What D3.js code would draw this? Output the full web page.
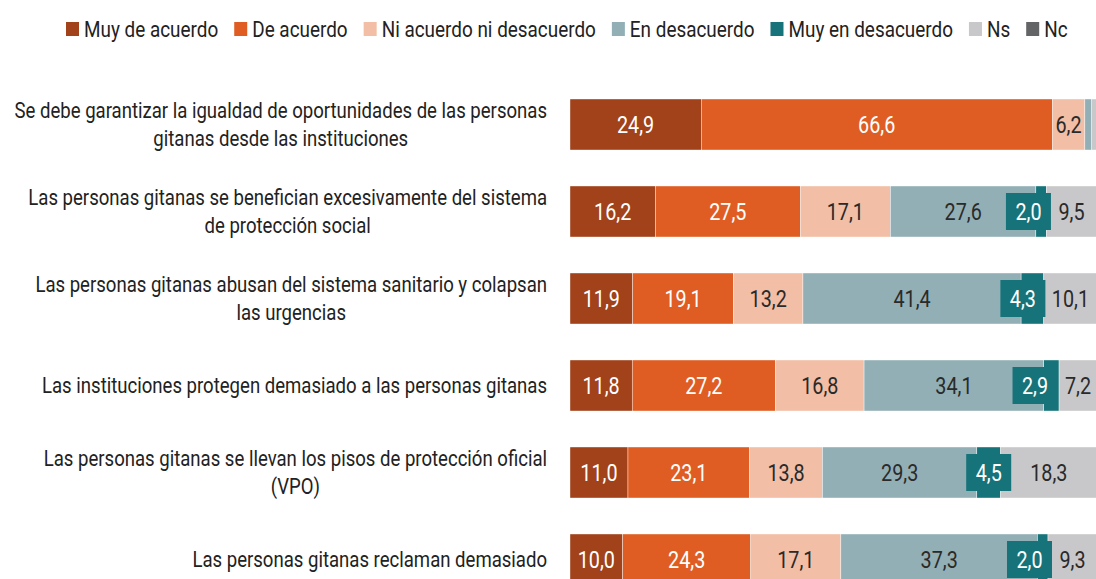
<!DOCTYPE html>
<html>
<head>
<meta charset="utf-8">
<script src="https://cdn.jsdelivr.net/npm/d3@7"></script>
<style>
	body { margin: 0; background: #fff; }
	svg text { font-family: Roboto, "Liberation Sans", sans-serif; }
</style>
</head>
<body>
<svg id="chart" width="1096" height="579"></svg>
<script>
// categories (rows, top to bottom)
const categories = [
	["Se debe garantizar la igualdad de oportunidades de las personas", "gitanas desde las instituciones"],
	["Las personas gitanas se benefician excesivamente del sistema", "de protección social"],
	["Las personas gitanas abusan del sistema sanitario y colapsan", "las urgencias"],
	["Las instituciones protegen demasiado a las personas gitanas"],
	["Las personas gitanas se llevan los pisos de protección oficial", "(VPO)"],
	["Las personas gitanas reclaman demasiado"]
];

const seriesNames = ["Muy de acuerdo", "De acuerdo", "Ni acuerdo ni desacuerdo", "En desacuerdo", "Muy en desacuerdo", "Ns", "Nc"];
const seriesColors = ["#a1421a", "#df5d23", "#f2bea5", "#93afb6", "#16737a", "#c8c8ca", "#636466"];

// values per series, one per row
const muyDeAcuerdo    = [24.9, 16.2, 11.9, 11.8, 11.0, 10.0];
const deAcuerdo       = [66.6, 27.5, 19.1, 27.2, 23.1, 24.3];
const niAcuerdo       = [6.2, 17.1, 13.2, 16.8, 13.8, 17.1];
const enDesacuerdo    = [1.2, 27.6, 41.4, 34.1, 29.3, 37.3];
const muyEnDesacuerdo = [0.0, 2.0, 4.3, 2.9, 4.5, 2.0];
const ns              = [1.1, 9.5, 10.1, 7.2, 18.3, 9.3];
const nc              = [0.0, 0.1, 0.0, 0.0, 0.0, 0.0];

const seriesValues = [muyDeAcuerdo, deAcuerdo, niAcuerdo, enDesacuerdo, muyEnDesacuerdo, ns, nc];

// the original uses a condensed face; squeeze Roboto horizontally
const squeezeK = 0.86;

const fmt = (v) => v.toFixed(1).replace(".", ",");

const putText = (g, str, x, y, size, fill, anchor) => {
	let t = g.append("text")
		.attr("transform", `translate(${x},${y}) scale(${squeezeK},1)`)
		.attr("dy", "0.35em")
		.style("font-size", size + "px")
		.style("fill", fill)
		.style("text-anchor", anchor)
		.text(str);
	return t;
}

const textW = (t) => t.node().getComputedTextLength() * squeezeK;

const drawChart = (svg_name) => {
	let chart = d3.select(svg_name);
	let rows = categories.map((c, i) => {
		let r = {key: i};
		seriesNames.forEach((s, j) => { r[s] = seriesValues[j][i]; });
		return r;
	});
	let x = d3.scaleLinear().domain([0, 100]).range([570, 1097]);
	let y = d3.scaleBand()
		.domain(rows.map((d) => d.key))
		.range([81, 603])
		.paddingInner(36 / 87)
		.paddingOuter(18 / 87);
	let color = d3.scaleOrdinal().domain(seriesNames).range(seriesColors);
	let stacked = d3.stack().keys(seriesNames)(rows);

	addLegend(chart, color);
	addRowLabels(chart, y);
	addBars(chart, stacked, x, y, color);
	addValueLabels(chart, stacked, x, y, color);
}

const addLegend = (chart, color) => {
	let g = chart.append("g");
	let cx = 66;
	seriesNames.forEach((s) => {
		g.append("rect")
			.attr("x", cx).attr("y", 22)
			.attr("width", 13).attr("height", 14)
			.attr("fill", color(s));
		let t = putText(g, s, cx + 18, 29.5, 22, "#222", "start");
		cx += 18 + textW(t) + 16;
	});
}

const addRowLabels = (chart, y) => {
	let right = 547;
	categories.forEach((lines, i) => {
		let cy = y(i) + y.bandwidth() / 2;
		let g = chart.append("g");
		let texts = lines.map((l, k) => putText(g, l, 0, 0, 21.6, "#222", "middle"));
		let w = d3.max(texts, (t) => textW(t));
		texts.forEach((t, k) => {
			let ly = cy + (k - (lines.length - 1) / 2) * 28;
			t.attr("transform", `translate(${right - w / 2},${ly}) scale(${squeezeK},1)`);
		});
	});
}

const addBars = (chart, stacked, x, y, color) => {
	chart.append("g").selectAll("g")
		.data(stacked)
		.join("g")
			.attr("fill", (d) => color(d.key))
		.selectAll("rect")
		.data((d) => d)
		.join("rect")
			.attr("x", (d) => x(d[0]))
			.attr("y", (d) => y(d.data.key))
			.attr("width", (d) => x(d[1]) - x(d[0]))
			.attr("height", y.bandwidth())
			.attr("stroke", "#fff")
			.attr("stroke-width", 0.4);
}

const addValueLabels = (chart, stacked, x, y, color) => {
	let g = chart.append("g");
	let darkKeys = ["Muy de acuerdo", "De acuerdo", "Muy en desacuerdo"];
	let nsLayer = stacked.find((s) => s.key === "Ns");
	stacked.forEach((layer) => {
		layer.forEach((d) => {
			let v = d[1] - d[0];
			if (v < 1.5) return;
			let cy = y(d.data.key) + y.bandwidth() / 2;
			let cx = (x(d[0]) + x(d[1])) / 2;
			if (layer.key === "Muy en desacuerdo") {
				let boxW = 45, boxH = 37;
				// keep the box clear of the Ns label on its right
				let n = nsLayer[d.data.key];
				let nsCx = (x(n[0]) + x(n[1])) / 2;
				let nsLeft = nsCx - (fmt(n[1] - n[0]).length * 9) / 2;
				cx = Math.min(cx, nsLeft - 7 - boxW / 2);
				g.append("rect")
					.attr("x", cx - boxW / 2).attr("y", cy - boxH / 2)
					.attr("width", boxW).attr("height", boxH)
					.attr("fill", color(layer.key));
			}
			putText(g, fmt(v), cx, cy, 23, darkKeys.includes(layer.key) ? "#fff" : "#2a2a2a", "middle");
		});
	});
}

drawChart("#chart");
</script>
</body>
</html>
